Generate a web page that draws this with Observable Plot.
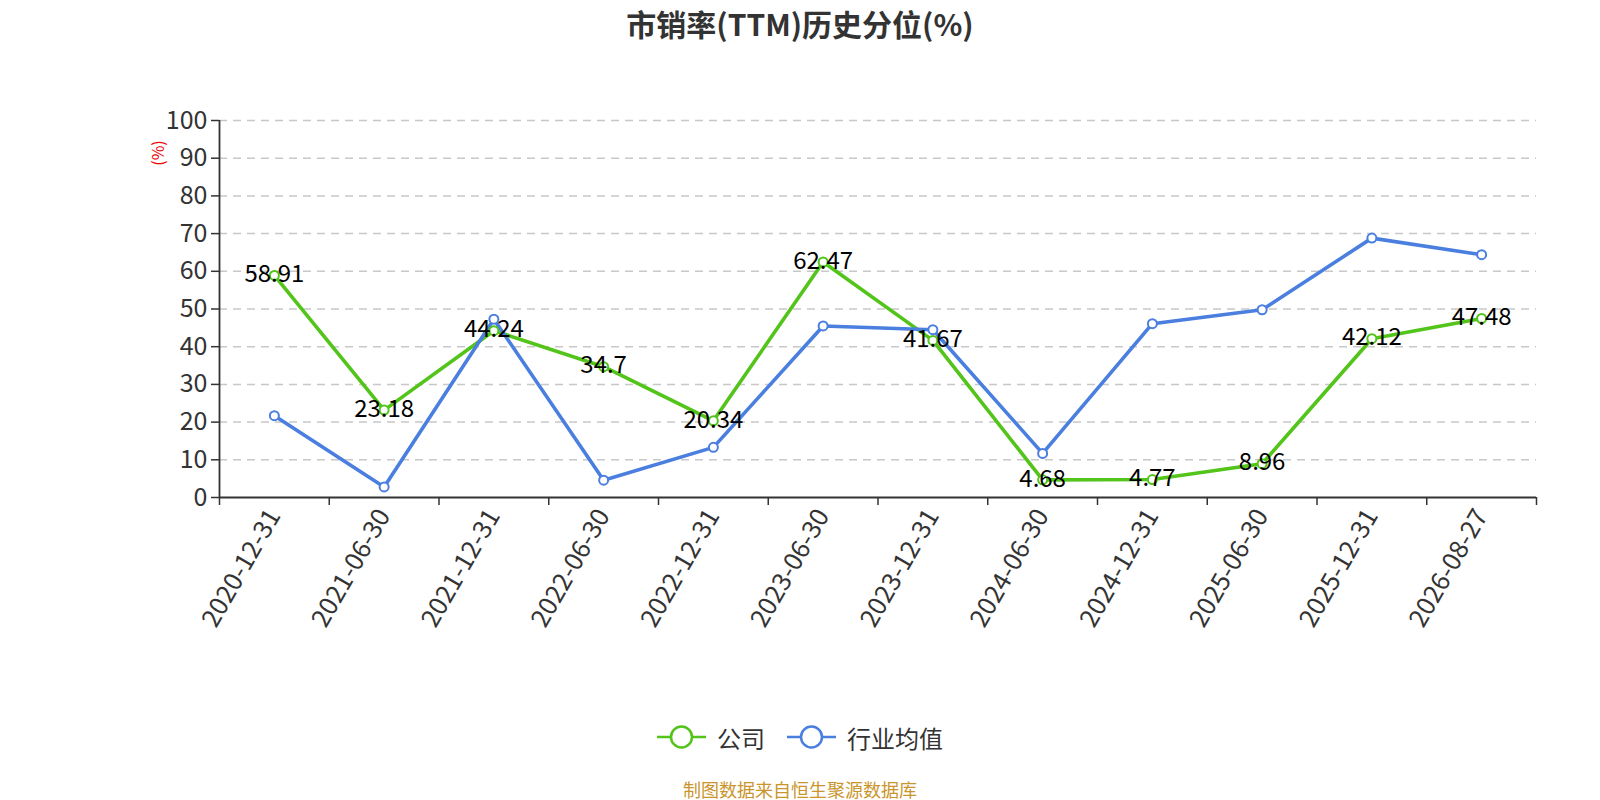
<!DOCTYPE html>
<html><head><meta charset="utf-8">
<script src="https://cdn.jsdelivr.net/npm/d3@7"></script>
<script src="https://cdn.jsdelivr.net/npm/@observablehq/plot@0.6"></script>
<style>
body{margin:0;width:1600px;height:800px;background:#fff;font-family:"Noto Sans CJK SC","Noto Sans",sans-serif;position:relative;overflow:hidden}
#title{position:absolute;top:2px;left:0;width:1600px;text-align:center;font-size:30px;line-height:42px;font-weight:bold;color:#333}
#chart{position:absolute;top:0;left:0}
#ylab{position:absolute;left:144px;top:143px;color:#e00;font-size:16px;line-height:20px;transform:rotate(-90deg);transform-origin:center}
#legend{position:absolute;top:721px;left:0;width:1600px;height:32px;display:flex;justify-content:center;align-items:center;font-size:24px;color:#333}
#legend .item{display:flex;align-items:center;margin:0 11px}
#legend svg{margin-right:11px}
#caption{position:absolute;top:777px;left:0;width:1600px;text-align:center;font-size:18px;line-height:24px;color:#c9952c}
</style></head>
<body>
<div id="chart"></div>
<div id="title">市销率(TTM)历史分位(%)</div>
<div id="ylab">(%)</div>
<div id="legend"></div>
<div id="caption">制图数据来自恒生聚源数据库</div>
<script>
const dates = ["2020-12-31","2021-06-30","2021-12-31","2022-06-30","2022-12-31","2023-06-30","2023-12-31","2024-06-30","2024-12-31","2025-06-30","2025-12-31","2026-08-27"];
const company = [58.91,23.18,44.24,34.7,20.34,62.47,41.67,4.68,4.77,8.96,42.12,47.48];
const industry = [21.7,2.8,47.3,4.6,13.3,45.5,44.5,11.7,46.1,49.8,68.8,64.4];
const yTicks = [0,10,20,30,40,50,60,70,80,90,100];
const seriesNames = ["公司","行业均值"];
const colors = ["#52c41a","#4a7fe0"];

const rows = dates.map((d,i)=>({i, date:d, company:company[i], industry:industry[i]}));
const idx = d3.range(dates.length);
const bounds = d3.range(dates.length+1).map(i=>i-0.5);

const chart = Plot.plot({
  width:1600, height:700,
  marginLeft:219, marginRight:64, marginTop:120, marginBottom:203,
  style:{fontFamily:'"Noto Sans CJK SC","Noto Sans",sans-serif', background:"transparent"},
  x:{type:"linear", domain:[-0.5, dates.length-0.5]},
  y:{domain:[0,100]},
  marks:[
    Plot.gridY(yTicks.filter(v=>v>0), {stroke:"#c8c8c8", strokeOpacity:1, strokeDasharray:"8,6", strokeWidth:1.5}),
    Plot.axisY({ticks:yTicks, tickSize:8, tickPadding:4, fontSize:25, fill:"#333", stroke:"#333", strokeWidth:1.5, label:null}),
    Plot.ruleX([-0.5], {stroke:"#333", strokeWidth:1.8}),
    Plot.ruleY([0], {stroke:"#333", strokeWidth:1.8}),
    Plot.axisX({ticks:bounds, tickSize:8, tickFormat:()=>"", stroke:"#333", strokeWidth:1.5, label:null}),
    Plot.axisX({ticks:idx, tickSize:0, tickPadding:14, tickFormat:i=>dates[i], tickRotate:-60, fontSize:25.5, fill:"#333", label:null}),
    Plot.line(rows, {x:"i", y:"company", stroke:colors[0], strokeWidth:3.6}),
    Plot.line(rows, {x:"i", y:"industry", stroke:colors[1], strokeWidth:3.6}),
    Plot.dot(rows, {x:"i", y:"company", r:4.5, fill:"white", stroke:colors[0], strokeWidth:2}),
    Plot.dot(rows, {x:"i", y:"industry", r:4.5, fill:"white", stroke:colors[1], strokeWidth:2}),
    Plot.text(rows, {x:"i", y:"company", text:d=>String(d.company), fontSize:24, fill:"#000", dy:-1})
  ]
});
document.getElementById("chart").appendChild(chart);

const legend = document.getElementById("legend");
seriesNames.forEach((n,k)=>{
  const it = document.createElement("div");
  it.className="item";
  it.innerHTML = `<svg width="49" height="26"><line x1="0" y1="13" x2="49" y2="13" stroke="${colors[k]}" stroke-width="2.5"/><circle cx="24.5" cy="13" r="10.5" fill="white" stroke="${colors[k]}" stroke-width="2.5"/></svg><span>${n}</span>`;
  legend.appendChild(it);
});
</script>
</body></html>
